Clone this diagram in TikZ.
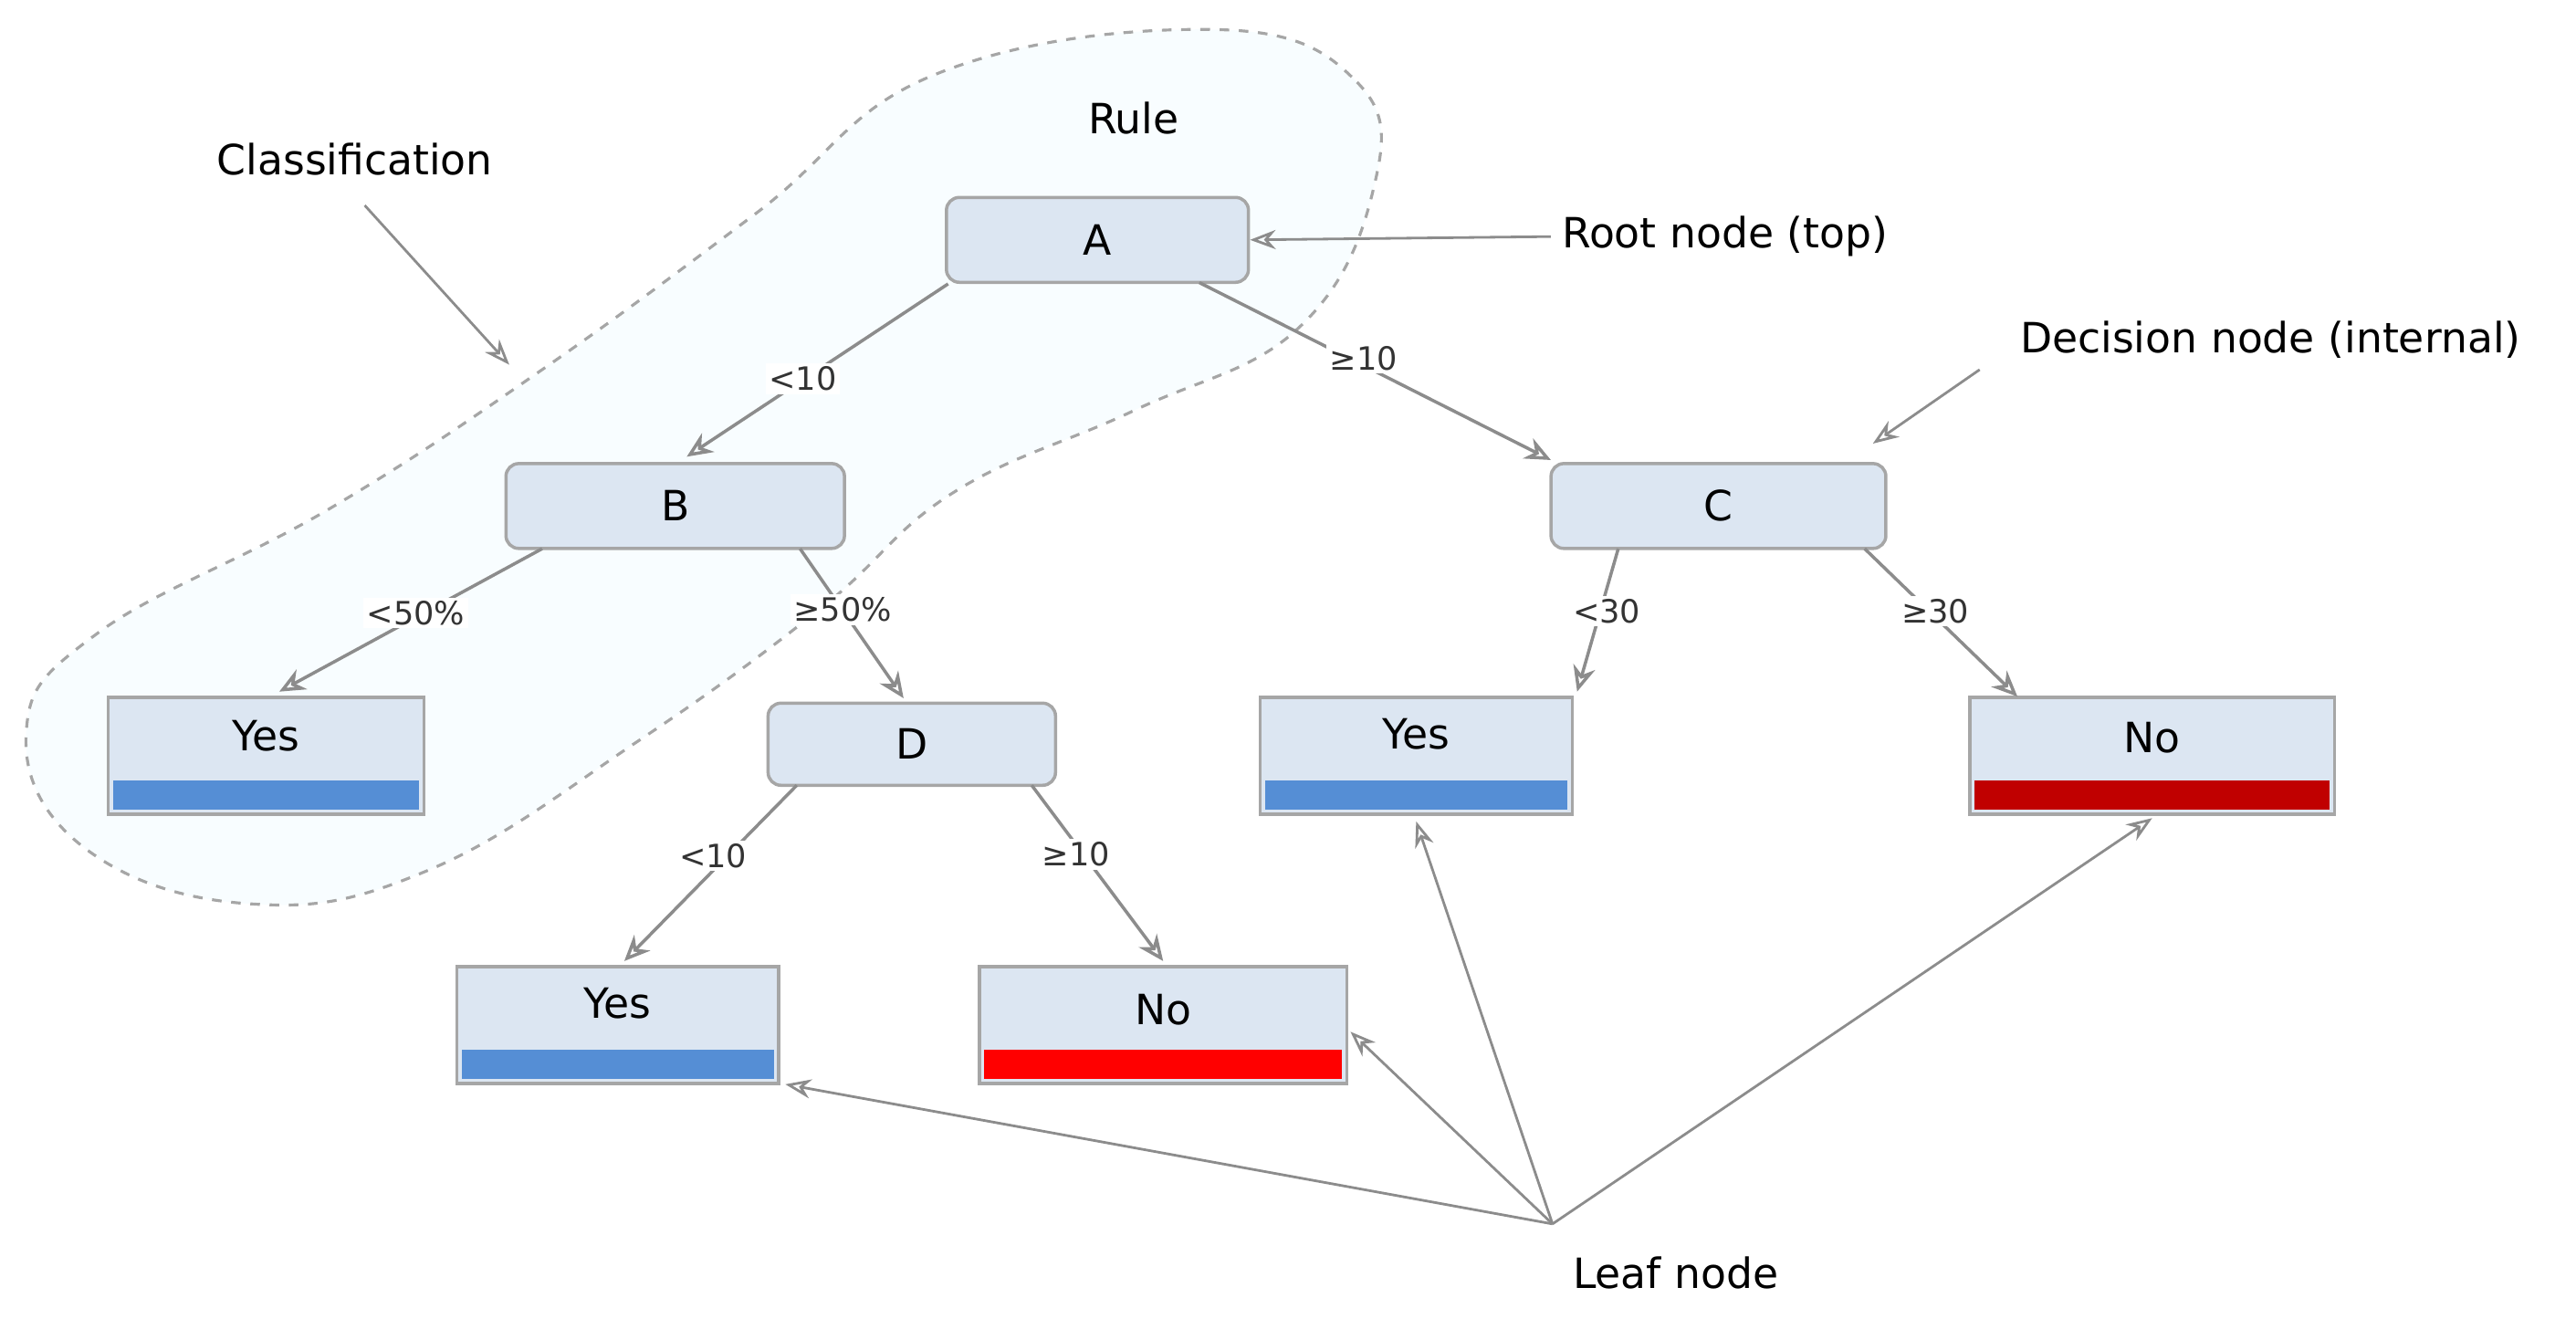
\documentclass[tikz,border=0pt]{standalone}
\usepackage{fontspec}
\setmainfont{DejaVu Sans}
\usetikzlibrary{arrows.meta,calc}
\definecolor{nfill}{HTML}{DCE6F2}
\definecolor{nborder}{HTML}{A6A6A6}
\definecolor{barblue}{HTML}{558ED5}
\definecolor{barred}{HTML}{FF0000}
\definecolor{bardark}{HTML}{C00000}
\definecolor{arr}{HTML}{8C8C8C}
\begin{document}
\begin{tikzpicture}[x=0.018cm,y=-0.018cm,
  dec/.style={draw=nborder,line width=1pt,fill=nfill,rounded corners=4pt,font=\fontsize{13}{15}\selectfont,minimum height=0.93cm,inner sep=0pt},
  leaf/.style={draw=nborder,line width=1pt,fill=nfill,minimum height=1.28cm,inner sep=0pt},
  ltext/.style={font=\fontsize{13}{15}\selectfont},
  edge/.style={draw=arr,line width=1pt,-{Stealth[length=8pt,width=7pt,open]}},
  thin/.style={draw=arr,line width=0.8pt,-{Stealth[length=8pt,width=6pt,open]}},
  elab/.style={font=\fontsize{10}{12}\selectfont,text=black!80,fill=white,inner sep=1pt},
  ann/.style={font=\fontsize{13}{15}\selectfont}]
\useasboundingbox (0,0) rectangle (1568,802.8);
% dashed region
\draw[dashed,draw=gray!70,line width=0.9pt,fill=blue!20!cyan!5,fill opacity=0.5]
 plot[smooth cycle,tension=0.7] coordinates{(740,18) (826,50) (836,115) (790,200) (690,250) (580,300) (500,370) (390,450) (260,530) (150,550) (50,515) (16,445) (60,385) (200,310) (330,225) (460,130) (570,45)};
% nodes
\node[dec,minimum width=3.31cm] (A) at (668,146) {A};
\node[dec,minimum width=3.71cm] (B) at (411,308) {B};
\node[dec,minimum width=3.67cm] (C) at (1046,308) {C};
\node[dec,minimum width=3.15cm,minimum height=0.9cm] (D) at (555,453) {D};
\node[leaf,minimum width=3.46cm,label={[ltext,anchor=center,yshift=-12.5pt]north:Yes}] (Y1) at (162,460) {};
\node[leaf,minimum width=3.42cm,label={[ltext,anchor=center,yshift=-12pt]north:Yes}] (Y2) at (862,460) {};
\node[leaf,minimum width=4.0cm,label={[ltext,anchor=center,yshift=-13pt]north:No}] (N1) at (1310,460) {};
\node[leaf,minimum width=3.53cm,label={[ltext,anchor=center,yshift=-12pt]north:Yes}] (Y3) at (376,624) {};
\node[leaf,minimum width=4.03cm,label={[ltext,anchor=center,yshift=-14pt]north:No}] (N2) at (708,624) {};
\foreach \n/\c in {Y1/barblue,Y2/barblue,N1/bardark,Y3/barblue,N2/barred}
  \fill[\c] ([xshift=2pt,yshift=2pt]\n.south west) rectangle ([xshift=-2pt,yshift=11pt]\n.south east);
% edges
\draw[edge] (A.south west)++(2,0) -- (418,278) coordinate (eB);
\path (A.south west) -- (418,278) node[elab,pos=0.55] {<10};
\draw[edge] (730,172) -- (944,280);
\node[elab] at (830,218) {≥10};
\draw[edge] (330,334) -- (170,421);
\node[elab] at (253,373) {<50\%};
\draw[edge] (487,334) -- (550,425);
\node[elab] at (513,371) {≥50\%};
\draw[edge] (985,334) -- (960,421);
\node[elab] at (978,372) {<30};
\draw[edge] (1135,334) -- (1228,424);
\node[elab] at (1178,372) {≥30};
\draw[edge] (485,478) -- (380,585);
\node[elab] at (434,521) {<10};
\draw[edge] (628,478) -- (708,585);
\node[elab] at (655,520) {≥10};
% annotations
\node[ann] (rule) at (690,72) {Rule};
\node[ann] (cls) at (216,97) {Classification};
\draw[thin] (222,125) -- (310,222);
\node[ann] (root) at (1050,144) {Root node (top)};
\draw[thin] (root.west) -- (A.east);
\node[ann] (dn) at (1382,207) {Decision node (internal)};
\draw[thin] (1205,225) -- (1140,270);
\node[ann] (lf) at (1020,775) {Leaf node};
\coordinate (lp) at (945,745);
\draw[thin] (lp) -- (478,660);
\draw[thin] (lp) -- (822,628);
\draw[thin] (lp) -- (862,500);
\draw[thin] (lp) -- (1310,498);
\end{tikzpicture}
\end{document}
